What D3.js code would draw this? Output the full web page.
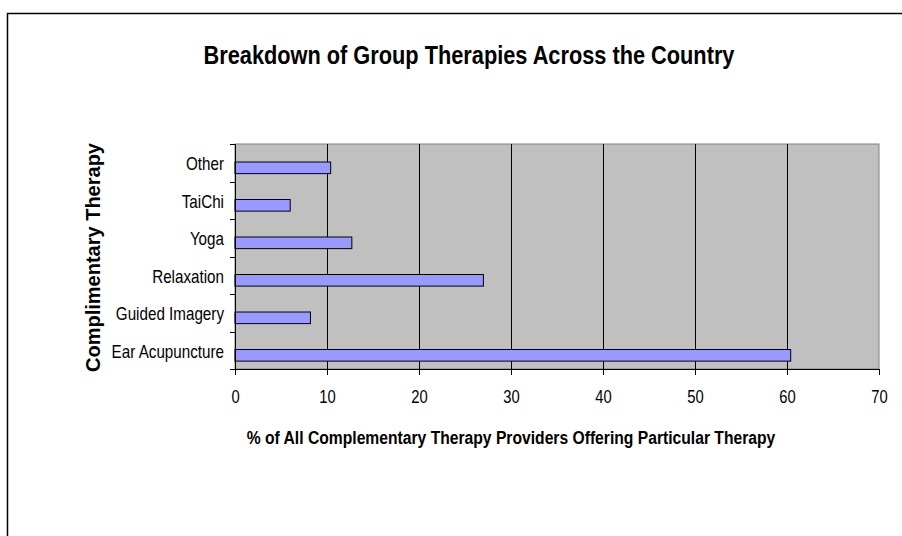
<!DOCTYPE html>
<html>
<head>
<meta charset="utf-8">
<script src="https://cdn.jsdelivr.net/npm/d3@7"></script>
<style>
  html, body { margin: 0; padding: 0; background: #fff; }
  svg { display: block; font-family: "Liberation Sans", Arial, sans-serif; }
</style>
</head>
<body>
<svg id="chart" width="902" height="536"></svg>
<script>
// Therapies offered by group providers (top of list drawn at top)
const categories = ["Other", "TaiChi", "Yoga", "Relaxation", "Guided Imagery", "Ear Acupuncture"];
const values = [10.4, 6.0, 12.7, 27.0, 8.2, 60.4];
const xTicks = [0, 10, 20, 30, 40, 50, 60, 70];

const titleText = "Breakdown of Group Therapies Across the Country";
const xTitleText = "% of All Complementary Therapy Providers Offering Particular Therapy";
const yTitleText = "Complimentary Therapy";

const svg = d3.select("#chart");
const plot = { left: 235, right: 879, top: 144, bottom: 369 };

// Narrow the glyphs horizontally, like the tightly set chart text
function condense(sel, k) {
  sel.each(function () {
    const w = this.getComputedTextLength();
    d3.select(this).attr("textLength", w * k).attr("lengthAdjust", "spacingAndGlyphs");
  });
}

// Outer chart frame
svg.append("rect")
  .attr("x", 7.5).attr("y", 13.5)
  .attr("width", 1000).attr("height", 1000)
  .attr("fill", "#fff").attr("stroke", "#000").attr("stroke-width", 1.5);

const x = d3.scaleLinear().domain([0, 70]).range([plot.left, plot.right]);
const y = d3.scaleBand().domain(categories).range([plot.top, plot.bottom]);

// Plot area
svg.append("rect")
  .attr("x", plot.left).attr("y", plot.top)
  .attr("width", plot.right - plot.left).attr("height", plot.bottom - plot.top)
  .attr("fill", "#c0c0c0").attr("stroke", "#808080").attr("stroke-width", 1);

// Vertical gridlines
svg.append("g").selectAll("line")
  .data(xTicks.filter(t => t > 0 && t < 70))
  .join("line")
  .attr("x1", d => Math.round(x(d)) + 0.5).attr("x2", d => Math.round(x(d)) + 0.5)
  .attr("y1", plot.top).attr("y2", plot.bottom)
  .attr("stroke", "#000").attr("stroke-width", 1);

// Bars
const bw = y.bandwidth();
svg.append("g").selectAll("rect")
  .data(categories.map((c, i) => ({ c, v: values[i] })))
  .join("rect")
  .attr("x", x(0))
  .attr("y", d => y(d.c) + bw * 0.48)
  .attr("width", d => x(d.v) - x(0))
  .attr("height", bw * 0.31)
  .attr("fill", "#9999ff").attr("stroke", "#000").attr("stroke-width", 1);

// Bottom axis
const xAxis = svg.append("g")
  .attr("transform", `translate(0,${plot.bottom})`)
  .call(d3.axisBottom(x).tickValues(xTicks).tickSize(6).tickSizeOuter(0).tickPadding(15));
xAxis.select(".domain").attr("stroke", "#000");
xAxis.selectAll(".tick line").attr("stroke", "#000");
xAxis.selectAll(".tick text")
  .attr("font-size", 18).attr("fill", "#000")
  .attr("font-family", "Liberation Sans, Arial, sans-serif")
  .call(condense, 0.82);

// Left axis: tick marks on band boundaries
const bounds = categories.map(c => y(c)).concat([plot.bottom]);
svg.append("line")
  .attr("x1", plot.left + 0.5).attr("x2", plot.left + 0.5)
  .attr("y1", plot.top).attr("y2", plot.bottom)
  .attr("stroke", "#000");
svg.append("g").selectAll("line")
  .data(bounds)
  .join("line")
  .attr("x1", plot.left - 5).attr("x2", plot.left)
  .attr("y1", d => Math.round(d) + 0.5).attr("y2", d => Math.round(d) + 0.5)
  .attr("stroke", "#000");

// Category labels
svg.append("g").selectAll("text")
  .data(categories)
  .join("text")
  .attr("x", 224)
  .attr("y", d => y(d) + bw / 2 + 1)
  .attr("dy", "0.35em")
  .attr("text-anchor", "end")
  .attr("font-size", 19)
  .text(d => d)
  .call(condense, 0.8);

// Title
svg.append("text")
  .attr("x", 469).attr("y", 64)
  .attr("text-anchor", "middle")
  .attr("font-size", 25).attr("font-weight", "bold")
  .text(titleText)
  .call(condense, 0.87);

// Axis titles
svg.append("text")
  .attr("x", 511).attr("y", 444)
  .attr("text-anchor", "middle")
  .attr("font-size", 18).attr("font-weight", "bold")
  .text(xTitleText)
  .call(condense, 0.87);

svg.append("text")
  .attr("transform", `translate(100,${(plot.top + plot.bottom) / 2 + 1}) rotate(-90)`)
  .attr("text-anchor", "middle")
  .attr("font-size", 20).attr("font-weight", "bold")
  .text(yTitleText);
</script>
</body>
</html>
